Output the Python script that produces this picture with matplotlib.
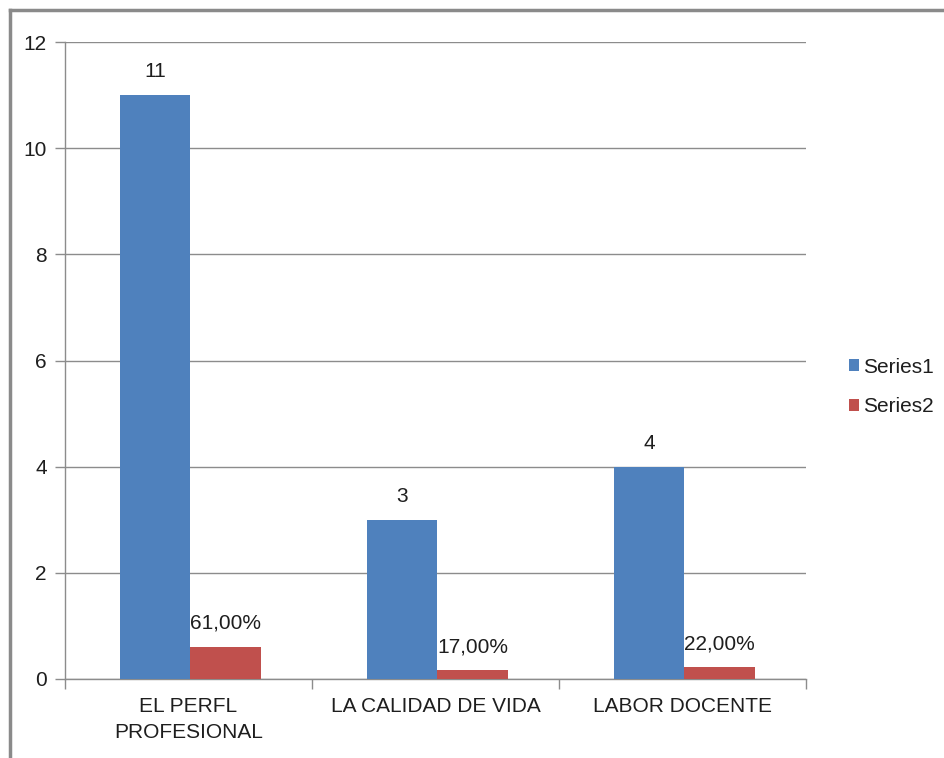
import numpy as np
import matplotlib
matplotlib.use("Agg")
from matplotlib import pyplot as plt
from matplotlib.lines import Line2D

plt.rcParams['font.family'] = ['Liberation Sans', 'DejaVu Sans']

categories = ["EL PERFL\nPROFESIONAL", "LA CALIDAD DE VIDA", "LABOR DOCENTE"]
series1 = [11, 3, 4]
series2 = [0.61, 0.17, 0.22]
series2_labels = ["61,00%", "17,00%", "22,00%"]
yticks = [0, 2, 4, 6, 8, 10, 12]

BLUE = "#4F81BD"
RED = "#C0504D"
GRID = "#8c8c8c"
TXT = "#1e1e1e"
FS = 15

fig = plt.figure(figsize=(9.45, 7.58), dpi=100)
ax = fig.add_axes([65 / 945, 79 / 758, 741 / 945, 637 / 758])

x = np.arange(len(categories))
w = 0.284
b1 = ax.bar(x - w / 2 + 0.008, series1, w, color=BLUE, zorder=3, label="Series1")
b2 = ax.bar(x + w / 2 + 0.008, series2, w, color=RED, zorder=3, label="Series2")

for rect, v in zip(b1, series1):
    ax.annotate(str(v), (rect.get_x() + rect.get_width() / 2, v),
                xytext=(0, 10), textcoords="offset points",
                ha="center", va="bottom", fontsize=FS, color=TXT)
for rect, v, lab in zip(b2, series2, series2_labels):
    ax.annotate(lab, (rect.get_x() + rect.get_width() / 2, v),
                xytext=(0, 10), textcoords="offset points",
                ha="center", va="bottom", fontsize=FS, color=TXT)

ax.set_xlim(-0.5, len(categories) - 0.5)
ax.set_ylim(0, 12)
ax.set_yticks(yticks)
ax.set_yticklabels([str(t) for t in yticks], fontsize=FS, color=TXT)
ax.yaxis.grid(True, color=GRID, linewidth=1, zorder=0)

ax.set_xticks(x)
ax.set_xticklabels(categories, fontsize=FS, color=TXT, linespacing=1.45)
ax.set_xticks(np.arange(len(categories) + 1) - 0.5, minor=True)
ax.tick_params(axis="x", which="major", length=0, pad=13)
ax.tick_params(axis="x", which="minor", length=7, color=GRID, width=1)
ax.tick_params(axis="y", length=7, color=GRID, width=1, pad=6)

for s in ["top", "right"]:
    ax.spines[s].set_visible(False)
for s in ["left", "bottom"]:
    ax.spines[s].set_color(GRID)
    ax.spines[s].set_linewidth(1)

leg = fig.legend(handles=[b1, b2], loc="center left",
                 bbox_to_anchor=(830 / 945, 1 - 387 / 758),
                 frameon=False, fontsize=FS, handlelength=0.5,
                 handleheight=0.5, handletextpad=0.2, labelspacing=1.0)
for t in leg.get_texts():
    t.set_color(TXT)

# outer chart border (only top and left edges visible)
fig.add_artist(Line2D([10 / 945, 10 / 945], [0, 1 - 10 / 758],
                      transform=fig.transFigure, color="#8a8a8a", linewidth=2.5))
fig.add_artist(Line2D([10 / 945, 1], [1 - 10 / 758, 1 - 10 / 758],
                      transform=fig.transFigure, color="#8a8a8a", linewidth=2.5))

fig.savefig("out.png", dpi=100)
